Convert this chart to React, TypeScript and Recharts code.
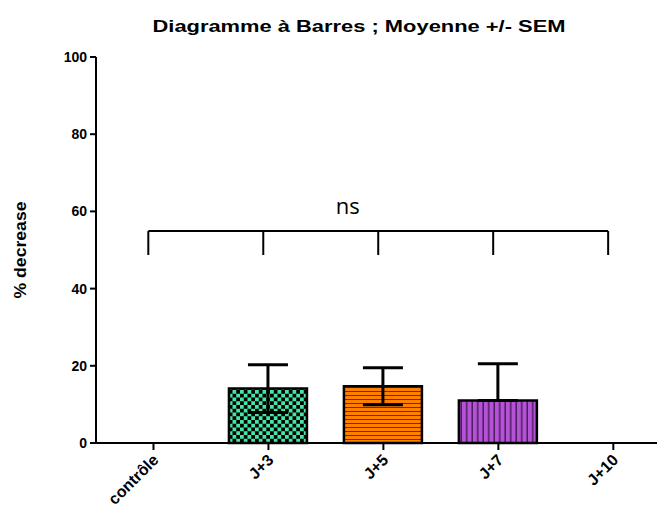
import React from "react";
import {
  Bar,
  Cell,
  ComposedChart,
  Customized,
  ErrorBar,
  ReferenceDot,
  ReferenceLine,
  XAxis,
  YAxis,
} from "recharts";

// groupes (axe X) et valeurs
const categories = ["contrôle", "J+3", "J+5", "J+7", "J+10"];
const means = [null, 14.1, 14.7, 11.0, null];
const semUp = [0, 6.2, 4.8, 9.5, 0];
const semDown = [0, 6.2, 4.8, 0, 0];
const yTicks = [0, 20, 40, 60, 80, 100];
const fills = ["none", "url(#checker)", "url(#hstripe)", "url(#vstripe)", "none"];

// accolade "ns" au-dessus des groupes
const bracketTop = 54.9;
const bracketFoot = 48.7;
const bracketShift = -0.045;
const nsText = "ns";

const FONT = "'Liberation Sans', Arial, sans-serif";

const data = categories
  .map((name, i) => ({
    idx: i,
    name,
    mean: means[i],
    err: [semDown[i], semUp[i]],
    fill: fills[i],
  }))
  .filter((d) => d.mean !== null);

const YTick = ({ x, y, payload }: any) => (
  <text
    x={x}
    y={y}
    dy={5}
    textAnchor="end"
    fontFamily={FONT}
    fontWeight="bold"
    fontSize={14}
    fill="#000"
  >
    {payload.value}
  </text>
);

const XTick = ({ x, y, payload }: any) => (
  <g transform={`translate(${x + 6},${y + 9})`}>
    <text
      transform="rotate(-45)"
      textAnchor="end"
      fontFamily={FONT}
      fontWeight="bold"
      fontSize={16}
      fill="#000"
    >
      {categories[payload.value]}
    </text>
  </g>
);

const Title = () => (
  <text
    x={359}
    y={32}
    textAnchor="middle"
    fontFamily={FONT}
    fontWeight="bold"
    fontSize={16.5}
    textLength={413}
    lengthAdjust="spacingAndGlyphs"
    fill="#000"
  >
    Diagramme à Barres ; Moyenne +/- SEM
  </text>
);

const YLabel = ({ viewBox }: any) => {
  const cy = viewBox.y + viewBox.height / 2;
  return (
    <text
      transform={`translate(26,${cy}) rotate(-90)`}
      textAnchor="middle"
      fontFamily={FONT}
      fontWeight="bold"
      fontSize={16}
      textLength={97}
      lengthAdjust="spacingAndGlyphs"
      fill="#000"
    >
      % decrease
    </text>
  );
};

export default function App() {
  const legs = categories.map((_, i) => i + bracketShift);
  return (
    <div style={{ position: "absolute", left: 0, top: 0, width: 660, height: 509, background: "#fff" }}>
      <ComposedChart
        width={660}
        height={509}
        data={data}
        margin={{ top: 57, right: 3, bottom: 0, left: 0 }}
      >
        <defs>
          <pattern id="checker" width={7.5} height={7.5} patternUnits="userSpaceOnUse">
            <rect width={7.5} height={7.5} fill="#000" />
            <rect width={3.75} height={3.75} fill="#44E6A8" />
            <rect x={3.75} y={3.75} width={3.75} height={3.75} fill="#44E6A8" />
          </pattern>
          <pattern id="hstripe" width={8} height={4} patternUnits="userSpaceOnUse">
            <rect width={8} height={4} fill="#FF8000" />
            <rect y={3} width={8} height={1} fill="#6B3300" />
          </pattern>
          <pattern id="vstripe" width={5.5} height={8} patternUnits="userSpaceOnUse">
            <rect width={5.5} height={8} fill="#B652D8" />
            <rect x={4} width={1.5} height={8} fill="#4A1F59" />
          </pattern>
        </defs>
        <Customized component={<Title />} />
        <XAxis
          dataKey="idx"
          type="number"
          domain={[-0.5, 4.38]}
          ticks={[0, 1, 2, 3, 4]}
          allowDataOverflow
          height={66}
          axisLine={{ stroke: "#000", strokeWidth: 2 }}
          tickLine={{ stroke: "#000", strokeWidth: 2 }}
          tickSize={7}
          tickMargin={2}
          tick={<XTick />}
          interval={0}
        />
        <YAxis
          type="number"
          domain={[0, 100]}
          ticks={yTicks}
          width={96}
          axisLine={{ stroke: "#000", strokeWidth: 2 }}
          tickLine={{ stroke: "#000", strokeWidth: 2 }}
          tickSize={6}
          tickMargin={3}
          tick={<YTick />}
          label={<YLabel />}
        />
        <Bar
          dataKey="mean"
          barSize={78}
          stroke="#000"
          strokeWidth={2.5}
          isAnimationActive={false}
        >
          {data.map((d) => (
            <Cell key={d.name} fill={d.fill} />
          ))}
          <ErrorBar
            dataKey="err"
            width={20}
            stroke="#000"
            strokeWidth={3}
            direction="y"
          />
        </Bar>
        <ReferenceLine
          segment={[
            { x: legs[0], y: bracketTop },
            { x: legs[legs.length - 1], y: bracketTop },
          ]}
          stroke="#000"
          strokeWidth={2}
          ifOverflow="visible"
        />
        {legs.map((lx) => (
          <ReferenceLine
            key={lx}
            segment={[
              { x: lx, y: bracketTop },
              { x: lx, y: bracketFoot },
            ]}
            stroke="#000"
            strokeWidth={2}
            ifOverflow="visible"
          />
        ))}
        <ReferenceDot
          x={1.69}
          y={61.4}
          r={0}
          fill="none"
          stroke="none"
          ifOverflow="visible"
          label={{
            value: nsText,
            position: "center",
            fontSize: 22,
            fill: "#000",
            fontFamily: "'Open Sans', sans-serif",
          }}
        />
      </ComposedChart>
    </div>
  );
}
